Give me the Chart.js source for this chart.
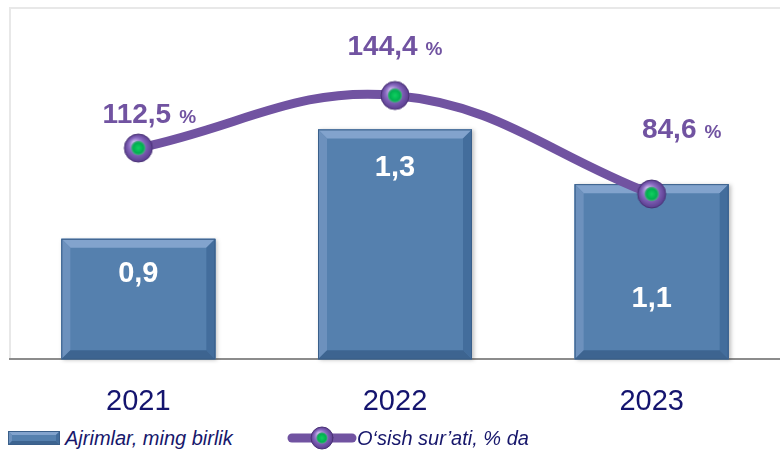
<!DOCTYPE html>
<html>
<head>
<meta charset="utf-8">
<script src="https://cdn.jsdelivr.net/npm/chart.js@4.4.1/dist/chart.umd.min.js"></script>
<style>
  body { margin: 0; background: #fff; font-family: "Liberation Sans", Arial, sans-serif; }
  #wrap { position: relative; width: 780px; height: 424px; }
  #legend { position: relative; width: 780px; height: 28px; }
  .leg { position: absolute; top: 2px; font-style: italic; font-size: 20px; color: #17176b; line-height: 24px; white-space: nowrap; }
</style>
</head>
<body>
<div id="wrap"><canvas id="canvas1" width="780" height="424"></canvas></div>
<div id="legend">
  <canvas id="legBar" width="56" height="20" style="position:absolute;left:6px;top:4px"></canvas>
  <span class="leg" style="left:65px">Ajrimlar, ming birlik</span>
  <canvas id="legLine" width="72" height="28" style="position:absolute;left:286px;top:0px"></canvas>
  <span class="leg" style="left:357px">O‘sish sur’ati, % da</span>
</div>
<script>
  // data
  const yillar = ['2021', '2022', '2023'];
  const ajrimlar = [0.9, 1.3, 1.1];
  const osish = [112.5, 144.4, 84.6];

  // label placement (px): bars -> drop below bar top, line -> [dx, rise above point]
  const barLabelDrop = [43, 47, 123];
  const lineLabelShift = [[11, 25], [0, 40], [30, 56]];

  const binafsha = '#7153a1';
  const navy = '#14146e';

  function fmt(v) { return v.toFixed(1).replace('.', ','); }

  function drawMarker(ctx, cx, cy, r) {
    var g = ctx.createRadialGradient(cx - r * 0.3, cy - r * 0.4, 1, cx, cy, r);
    g.addColorStop(0, '#c9b9ec');
    g.addColorStop(0.5, '#8a6bc2');
    g.addColorStop(1, '#5a3d8e');
    ctx.beginPath();
    ctx.arc(cx, cy, r, 0, Math.PI * 2);
    ctx.fillStyle = g;
    ctx.fill();
    ctx.lineWidth = 1;
    ctx.strokeStyle = '#4a3276';
    ctx.stroke();
    var g2 = ctx.createRadialGradient(cx, cy, 0, cx, cy, r * 0.52);
    g2.addColorStop(0, '#10d060');
    g2.addColorStop(0.7, '#00b050');
    g2.addColorStop(1, '#5aa08e');
    ctx.beginPath();
    ctx.arc(cx, cy, r * 0.52, 0, Math.PI * 2);
    ctx.fillStyle = g2;
    ctx.fill();
  }

  function drawBevelBar(ctx, l, t, r, b, bw) {
    ctx.fillStyle = '#5580ae';
    ctx.fillRect(l, t, r - l, b - t);
    ctx.fillStyle = '#82a3cd';
    ctx.beginPath(); ctx.moveTo(l, t); ctx.lineTo(r, t); ctx.lineTo(r - bw, t + bw); ctx.lineTo(l + bw, t + bw); ctx.closePath(); ctx.fill();
    ctx.fillStyle = '#6d91bd';
    ctx.beginPath(); ctx.moveTo(l, t); ctx.lineTo(l + bw, t + bw); ctx.lineTo(l + bw, b - bw); ctx.lineTo(l, b); ctx.closePath(); ctx.fill();
    ctx.fillStyle = '#436d9c';
    ctx.beginPath(); ctx.moveTo(r, t); ctx.lineTo(r, b); ctx.lineTo(r - bw, b - bw); ctx.lineTo(r - bw, t + bw); ctx.closePath(); ctx.fill();
    ctx.fillStyle = '#3d6490';
    ctx.beginPath(); ctx.moveTo(l, b); ctx.lineTo(r, b); ctx.lineTo(r - bw, b - bw); ctx.lineTo(l + bw, b - bw); ctx.closePath(); ctx.fill();
    ctx.strokeStyle = '#3a5f8a';
    ctx.lineWidth = 1;
    ctx.strokeRect(l + 0.5, t + 0.5, r - l - 1, b - t - 1);
  }

  // marker image used as point style
  var markerImg = document.createElement('canvas');
  markerImg.width = 32; markerImg.height = 32;
  drawMarker(markerImg.getContext('2d'), 16, 16, 14);

  // legend swatches
  (function () {
    var c = document.getElementById('legBar').getContext('2d');
    drawBevelBar(c, 2, 3, 54, 17, 4);
    var c2 = document.getElementById('legLine').getContext('2d');
    c2.strokeStyle = binafsha; c2.lineWidth = 9; c2.lineCap = 'round';
    c2.beginPath(); c2.moveTo(6, 14); c2.lineTo(66, 14); c2.stroke();
    drawMarker(c2, 36, 14, 11);
  })();

  const ramka = {
    id: 'ramka',
    beforeDraw(chart) {
      var a = chart.chartArea, ctx = chart.ctx;
      ctx.save();
      ctx.strokeStyle = '#e8e8e8';
      ctx.lineWidth = 2;
      ctx.beginPath();
      ctx.moveTo(a.left, a.bottom); ctx.lineTo(a.left, a.top); ctx.lineTo(a.right, a.top);
      ctx.stroke();
      ctx.restore();
    }
  };

  const bevel = {
    id: 'bevel',
    afterDatasetDraw(chart, args) {
      if (args.meta.type !== 'bar') return;
      var ctx = chart.ctx;
      var bottom = chart.chartArea.bottom;
      ctx.save();
      args.meta.data.forEach(function (bar) {
        var p = bar.getProps(['x', 'y', 'base', 'width'], true);
        var l = p.x - p.width / 2, r = p.x + p.width / 2;
        var b = Math.min(p.base, bottom);
        ctx.shadowColor = 'rgba(0,0,0,0.25)';
        ctx.shadowBlur = 4; ctx.shadowOffsetX = 2; ctx.shadowOffsetY = 1;
        ctx.fillStyle = '#5580ae';
        ctx.fillRect(l, p.y, r - l, b - p.y);
        ctx.shadowColor = 'transparent';
        drawBevelBar(ctx, l, p.y, r, b, 9);
      });
      ctx.restore();
    }
  };

  const yozuvlar = {
    id: 'yozuvlar',
    afterDatasetsDraw(chart) {
      var ctx = chart.ctx;
      ctx.save();
      ctx.textBaseline = 'alphabetic';
      var barMeta = chart.getDatasetMeta(1);
      barMeta.data.forEach(function (bar, i) {
        ctx.font = 'bold 29px "Liberation Sans", Arial, sans-serif';
        ctx.fillStyle = '#ffffff';
        ctx.textAlign = 'center';
        ctx.fillText(fmt(ajrimlar[i]), bar.x, bar.y + barLabelDrop[i]);
      });
      var lineMeta = chart.getDatasetMeta(0);
      lineMeta.data.forEach(function (pt, i) {
        var num = fmt(osish[i]);
        ctx.font = 'bold 28px "Liberation Sans", Arial, sans-serif';
        var wN = ctx.measureText(num).width;
        ctx.font = 'bold 19px "Liberation Sans", Arial, sans-serif';
        var wP = ctx.measureText('%').width;
        var total = wN + 8 + wP;
        var x0 = pt.x + lineLabelShift[i][0] - total / 2;
        var yb = pt.y - lineLabelShift[i][1];
        ctx.textAlign = 'left';
        ctx.fillStyle = binafsha;
        ctx.font = 'bold 28px "Liberation Sans", Arial, sans-serif';
        ctx.fillText(num, x0, yb);
        ctx.font = 'bold 19px "Liberation Sans", Arial, sans-serif';
        ctx.fillText('%', x0 + wN + 8, yb);
      });
      ctx.restore();
    }
  };

  var myChart = new Chart(document.getElementById('canvas1'), {
    data: {
      labels: yillar,
      datasets: [{
        type: 'line',
        label: 'O‘sish sur’ati, % da',
        data: osish,
        yAxisID: 'y1',
        order: 0,
        borderColor: binafsha,
        borderWidth: 9,
        tension: 0.4,
        pointStyle: markerImg,
        pointRadius: 14,
        clip: false
      }, {
        type: 'bar',
        label: 'Ajrimlar, ming birlik',
        data: ajrimlar,
        yAxisID: 'y',
        order: 1,
        backgroundColor: '#5580ae',
        categoryPercentage: 1,
        barPercentage: 0.6
      }]
    },
    options: {
      responsive: false,
      animation: false,
      layout: { autoPadding: false, padding: { left: 10, right: -5, top: 8, bottom: -20 } },
      plugins: { legend: { display: false }, tooltip: { enabled: false } },
      scales: {
        x: {
          grid: { display: false, drawTicks: false },
          border: { display: true, color: '#8c8c8c', width: 2 },
          ticks: { color: navy, padding: 25, font: { size: 29, family: '"Liberation Sans", Arial, sans-serif' } }
        },
        y: { display: false, min: 0.46, max: 1.744 },
        y1: { display: false, min: -15.7, max: 197.5 }
      }
    },
    plugins: [ramka, bevel, yozuvlar]
  });
</script>
</body>
</html>
